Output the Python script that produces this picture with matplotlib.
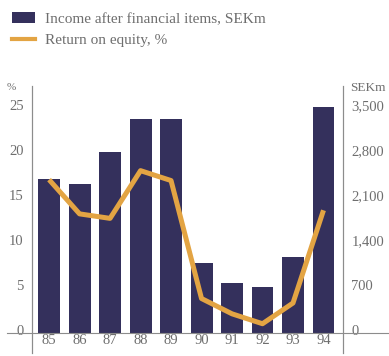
import matplotlib
matplotlib.use("Agg")
import matplotlib.pyplot as plt
from matplotlib.patches import Patch
from matplotlib.lines import Line2D
from matplotlib.transforms import ScaledTranslation

plt.rcParams['font.family'] = ['Liberation Serif', 'DejaVu Serif']

# data
years = ['85', '86', '87', '88', '89', '90', '91', '92', '93', '94']
income_sekm = [2390, 2320, 2810, 3330, 3320, 1085, 770, 710, 1175, 3510]
roe_pct = [17.0, 13.2, 12.7, 18.0, 16.9, 3.8, 2.1, 1.0, 3.3, 13.6]
pct_ticks = [0, 5, 10, 15, 20, 25]
sek_ticks = [0, 700, 1400, 2100, 2800, 3500]
sek_labels = ['0', '700', '1,400', '2,100', '2,800', '3,500']

bar_color = '#34305c'
line_color = '#e3a443'
text_color = '#6e6e6e'
axis_color = '#8c8c8c'

W, H = 389, 356
fig = plt.figure(figsize=(W / 100, H / 100), dpi=100)
ax = fig.add_axes([32 / W, 3 / H, 311 / W, 267 / H])
ax2 = ax.twinx()

x = list(range(len(years)))
ax2.bar(x, income_sekm, width=0.72, color=bar_color, zorder=2)
ax.plot(x, roe_pct, color=line_color, lw=3.6, solid_joinstyle='round',
        solid_capstyle='butt', zorder=3)

# line axis above bar axis
ax.set_zorder(ax2.get_zorder() + 1)
ax.patch.set_visible(False)

ylo, yhi = -2.25, 27.4
ax.set_ylim(ylo, yhi)
ax2.set_ylim(ylo * 140, yhi * 140)
ax.set_xlim(-0.56, 9.64)

ax.set_yticks(pct_ticks)
ax.set_yticklabels([str(t) for t in pct_ticks])
ax2.set_yticks(sek_ticks)
ax2.set_yticklabels(sek_labels)
ax.set_xticks(x)
ax.set_xticklabels(years)

for a in (ax, ax2):
    a.tick_params(length=0, colors=text_color, labelsize=10.5)
    for side in ('top', 'bottom'):
        a.spines[side].set_visible(False)
    for side in ('left', 'right'):
        a.spines[side].set_color(axis_color)
        a.spines[side].set_linewidth(0.8)
ax.tick_params(axis='y', pad=6)
ax2.tick_params(axis='y', pad=6)
ax.tick_params(axis='x', pad=-14)

# nudge the y labels a little upward like the print
shift = ScaledTranslation(0, 2 / 72, fig.dpi_scale_trans)
for lab in ax.get_yticklabels() + ax2.get_yticklabels():
    lab.set_transform(lab.get_transform() + shift)

# baseline running past both axes
ax.plot([-0.08, 1.2], [0, 0], transform=ax.get_yaxis_transform(),
        color=axis_color, lw=0.8, clip_on=False, zorder=4)

fig.text(7 / W, 1 - 88 / H, '%', fontsize=8, color=text_color, va='center')
fig.text(350 / W, 1 - 88 / H, 'SEKm', fontsize=9.5, color=text_color, va='center')

handles = [Patch(facecolor=bar_color, edgecolor='none'),
           Line2D([], [], color=line_color, lw=3)]
fig.legend(handles, ['Income after financial items, SEKm', 'Return on equity, %'],
           loc='upper left', bbox_to_anchor=(0.0, 1.0), frameon=False,
           fontsize=11, labelcolor=text_color, handlelength=1.5,
           handletextpad=0.65, labelspacing=0.5, borderaxespad=0.4)

fig.savefig('out.png', dpi=100, facecolor='white')
